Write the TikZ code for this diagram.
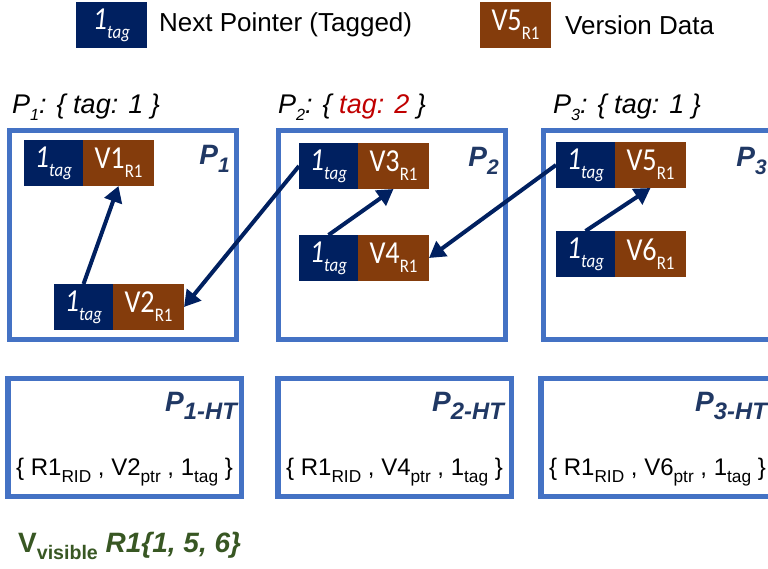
\documentclass[tikz,border=0pt]{standalone}
\usepackage{fontspec}
\setmainfont{Liberation Sans}
\newfontfamily\cellfont[FakeStretch=0.88]{Carlito}
\usetikzlibrary{positioning,arrows.meta}
\definecolor{navy}{HTML}{002060}
\definecolor{rust}{HTML}{843C0C}
\definecolor{pageblue}{HTML}{4472C4}
\definecolor{labelblue}{HTML}{203864}
\definecolor{tagred}{HTML}{C00000}
\definecolor{visgreen}{HTML}{385723}
\makeatletter
\newcommand\lsub[2][.6]{\raisebox{-.28em}{\fontsize{\fpeval{#1*\f@size}}{0}\selectfont #2}}
\makeatother
\tikzset{
  tagcell/.style={fill=navy,text=white,font=\cellfont\fontsize{32}{34}\selectfont\itshape,
    minimum width=59pt,minimum height=46pt,inner sep=0pt,outer sep=0pt},
  vercell/.style={fill=rust,text=white,font=\cellfont\fontsize{32}{34}\selectfont,
    minimum width=71pt,minimum height=46pt,inner sep=0pt,outer sep=0pt},
  pagebox/.style={draw=pageblue,line width=5pt,minimum width=227pt,minimum height=209pt,inner sep=0pt},
  htbox/.style={draw=pageblue,line width=5.5pt,minimum width=233.5pt,minimum height=118pt,inner sep=0pt},
  pagelabel/.style={text=labelblue,font=\fontsize{28}{30}\selectfont\bfseries\itshape,inner sep=0pt},
  toplabel/.style={font=\fontsize{27}{30}\selectfont\itshape,inner sep=0pt},
  keytext/.style={font=\fontsize{26}{30}\selectfont,inner sep=0pt},
  httext/.style={font=\fontsize{24}{28}\selectfont,inner sep=0pt},
  ptr/.style={draw=navy,line width=4pt,-{Triangle[length=16pt,width=18pt]}}
}
\begin{document}
\begin{tikzpicture}[x=1pt,y=-1pt]
\useasboundingbox (0,0) rectangle (768,568);
\clip (0,0) rectangle (768,568);

\node [tagcell,minimum width=71pt,anchor=north west] (keytag) at ( 76,2) {1\lsub{tag}};
\node [keytext,right=12pt of keytag]                 (keytagtxt) {Next Pointer (Tagged)};
\node [vercell,anchor=north west]                    (keyver) at (480,2) {V5\lsub{R1}};
\node [keytext,right=14pt of keyver]                 (keyvertxt) {Version Data};

\node [toplabel,anchor=base west] (p1tag) at ( 12,113) {P\lsub{1}: \{ tag: 1 \}};
\node [toplabel,anchor=base west] (p2tag) at (278,113) {P\lsub{2}: \{ \textcolor{tagred}{tag: 2} \}};
\node [toplabel,anchor=base west] (p3tag) at (553,113) {P\lsub{3}: \{ tag: 1 \}};

\node [pagebox] (p1) at (123,235) {};
\node [pagebox] (p2) at (392,235) {};
\node [pagebox] (p3) at (657,235) {};
\node [pagelabel,below left=17pt and 9pt of p1.north east] (p1lbl) {P\lsub[.75]{1}};
\node [pagelabel,below left=19pt and 9pt of p2.north east] (p2lbl) {P\lsub[.75]{2}};
\node [pagelabel,below left=19pt and 6pt of p3.north east] (p3lbl) {P\lsub[.75]{3}};

\node [tagcell,anchor=north west] (t1) at ( 24,140) {1\lsub{tag}};
\node [vercell,right=0pt of t1]   (v1) {V1\lsub{R1}};
\node [tagcell,anchor=north west] (t2) at ( 54,284) {1\lsub{tag}};
\node [vercell,right=0pt of t2]   (v2) {V2\lsub{R1}};
\node [tagcell,anchor=north west] (t3) at (299,143) {1\lsub{tag}};
\node [vercell,right=0pt of t3]   (v3) {V3\lsub{R1}};
\node [tagcell,anchor=north west] (t4) at (299,235) {1\lsub{tag}};
\node [vercell,right=0pt of t4]   (v4) {V4\lsub{R1}};
\node [tagcell,anchor=north west] (t5) at (556,142) {1\lsub{tag}};
\node [vercell,right=0pt of t5]   (v5) {V5\lsub{R1}};
\node [tagcell,anchor=north west] (t6) at (556,231) {1\lsub{tag}};
\node [vercell,right=0pt of t6]   (v6) {V6\lsub{R1}};

\draw [ptr] (t2.north) -- (v1.south);
\draw [ptr] (t3.west)  -- (v2.east);
\draw [ptr] (t4.north) -- (v3.south);
\draw [ptr] (t5.west)  -- (v4.east);
\draw [ptr] (t6.north) -- (v5.south);

\node [htbox] (h1) at (124.5,437.5) {};
\node [htbox] (h2) at (394.5,437.5) {};
\node [htbox] (h3) at (657.5,437.5) {};
\node [pagelabel,below left=16pt and 7pt of h1.north east]  (h1lbl) {P\lsub[.85]{1-HT}};
\node [pagelabel,below left=16pt and 10pt of h2.north east] (h2lbl) {P\lsub[.85]{2-HT}};
\node [pagelabel,below left=16pt and 10pt of h3.north east] (h3lbl) {P\lsub[.85]{3-HT}};
\node [httext,anchor=base] (h1txt) at ([yshift=-38pt]h1.center) {\{ R1\lsub[.72]{RID} , V2\lsub[.72]{ptr} , 1\lsub[.72]{tag} \}};
\node [httext,anchor=base] (h2txt) at ([yshift=-38pt]h2.center) {\{ R1\lsub[.72]{RID} , V4\lsub[.72]{ptr} , 1\lsub[.72]{tag} \}};
\node [httext,anchor=base] (h3txt) at ([yshift=-38pt]h3.center) {\{ R1\lsub[.72]{RID} , V6\lsub[.72]{ptr} , 1\lsub[.72]{tag} \}};

\node [inner sep=0pt,text=visgreen,font=\fontsize{28}{30}\selectfont\bfseries,anchor=base west] (vis)
    at (18,552) {V\lsub[.7]{visible} \itshape R1\{1, 5, 6\}};
\end{tikzpicture}
\end{document}
